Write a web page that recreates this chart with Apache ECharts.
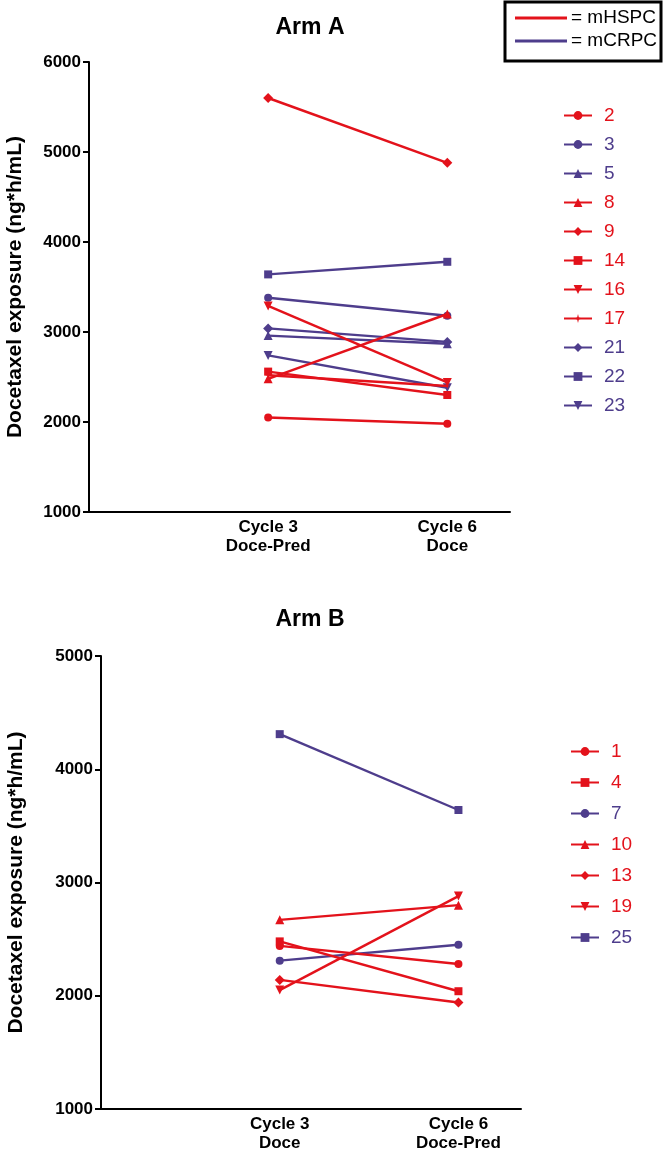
<!DOCTYPE html>
<html>
<head>
<meta charset="utf-8">
<script src="https://cdn.jsdelivr.net/npm/echarts@6/dist/echarts.min.js"></script>
<style>html,body{margin:0;padding:0;background:#fff}#c{width:665px;height:1158px}</style>
</head>
<body>
<div id="c"></div>
<script>
// ---- Data ----
const xCategories = [1, 2];
const armA_xLabels = ['Cycle 3\nDoce-Pred', 'Cycle 6\nDoce'];
const armB_xLabels = ['Cycle 3\nDoce', 'Cycle 6\nDoce-Pred'];

const armA_ids    = ['2','3','5','8','9','14','16','17','21','22','23'];
const armA_cycle3 = [2050,3380,2960,2480,5600,2560,3290,2520,3040,3640,2740];
const armA_cycle6 = [1980,3180,2870,3200,4880,2300,2440,2400,2890,3780,2380];
const armA_group  = ['mHSPC','mCRPC','mCRPC','mHSPC','mHSPC','mHSPC','mHSPC','mHSPC','mCRPC','mCRPC','mCRPC'];
const armA_marker = ['circle','circle','up','up','diamond','square','down','star','diamond','square','down'];

const armB_ids    = ['1','4','7','10','13','19','25'];
const armB_cycle3 = [2440,2480,2310,2670,2140,2050,4310];
const armB_cycle6 = [2280,2040,2450,2800,1940,2880,3640];
const armB_group  = ['mHSPC','mHSPC','mCRPC','mHSPC','mHSPC','mHSPC','mCRPC'];
const armB_marker = ['circle','square','circle','up','diamond','down','square'];

const armA_yTicks = [1000, 6000, 1000]; // min, max, interval
const armB_yTicks = [1000, 5000, 1000];

// ---- Styles ----
const COLORS = { mHSPC: '#e3121b', mCRPC: '#4e3d8c' };
const SYMBOLS = {
  circle: { s: 'circle', size: 8 },
  up: { s: 'triangle', size: 9 },
  down: { s: 'path://M0,0 L10,0 L5,9 Z', size: 9 },
  diamond: { s: 'diamond', size: 10 },
  square: { s: 'rect', size: 8 },
  star: { s: 'path://M5,0 L6,4 L10,5 L6,6 L5,10 L4,6 L0,5 L4,4 Z', size: 6 }
};
const FONT = 'Liberation Sans, Arial, sans-serif';

function buildSeries(ids, c3, c6, groups, markers, axisIdx) {
  return ids.map((id, i) => {
    const col = COLORS[groups[i]];
    const sym = SYMBOLS[markers[i]];
    return {
      name: id, type: 'line', xAxisIndex: axisIdx, yAxisIndex: axisIdx,
      data: [[xCategories[0], c3[i]], [xCategories[1], c6[i]]],
      symbol: sym.s, symbolSize: sym.size, showAllSymbol: true,
      lineStyle: { color: col, width: 2.4 },
      itemStyle: { color: col, borderWidth: 0 },
      emphasis: { disabled: true },
      z: groups[i] === 'mHSPC' ? 3 : 2,
      animation: false
    };
  });
}
function legendData(ids, groups) {
  return ids.map((id, i) => ({ name: id, textStyle: { color: COLORS[groups[i]] } }));
}
function xAxis(grid, labels) {
  return {
    type: 'value', gridIndex: grid, min: 0, max: 2.35, interval: 1,
    axisLine: { lineStyle: { color: '#000', width: 2 } },
    axisTick: { show: false }, splitLine: { show: false },
    axisLabel: {
      formatter: v => (v === 1 ? labels[0] : v === 2 ? labels[1] : ''),
      color: '#000', fontWeight: 'bold', fontSize: 17, fontFamily: FONT, lineHeight: 19, margin: 6
    }
  };
}
function yAxis(grid, t, gap) {
  return {
    type: 'value', gridIndex: grid, min: t[0], max: t[1], interval: t[2],
    name: 'Docetaxel exposure (ng*h/mL)', nameLocation: 'middle', nameGap: gap,
    nameTextStyle: { color: '#000', fontWeight: 'bold', fontSize: 21, fontFamily: FONT },
    axisLine: { show: true, lineStyle: { color: '#000', width: 2 } },
    axisTick: { show: true, length: 6, lineStyle: { color: '#000', width: 2 } },
    splitLine: { show: false },
    axisLabel: { formatter: v => String(v), color: '#000', fontWeight: 'bold', fontSize: 17,
      fontFamily: FONT, margin: 8 }
  };
}

const chart = echarts.init(document.getElementById('c'), null, { renderer: 'canvas' });
chart.setOption({
  backgroundColor: '#fff',
  animation: false,
  title: [
    { text: 'Arm A', left: 305, top: 11, textAlign: 'center',
      textStyle: { fontSize: 23, fontWeight: 'bold', color: '#000', fontFamily: FONT } },
    { text: 'Arm B', left: 305, top: 603, textAlign: 'center',
      textStyle: { fontSize: 23, fontWeight: 'bold', color: '#000', fontFamily: FONT } }
  ],
  grid: [
    { left: 89, top: 62, width: 421, height: 450, containLabel: false, outerBoundsMode: 'none' },
    { left: 101, top: 656, width: 420, height: 453, containLabel: false, outerBoundsMode: 'none' }
  ],
  xAxis: [xAxis(0, armA_xLabels), xAxis(1, armB_xLabels)],
  yAxis: [yAxis(0, armA_yTicks, 63), yAxis(1, armB_yTicks, 74)],
  legend: [
    { data: legendData(armA_ids, armA_group), orient: 'vertical', left: 558, top: 101,
      itemWidth: 28, itemHeight: 11, itemGap: 10, selectedMode: false,
      textStyle: { fontSize: 19, fontFamily: FONT, lineHeight: 19, padding: [0, 0, 0, 7] } },
    { data: legendData(armB_ids, armB_group), orient: 'vertical', left: 565, top: 737,
      itemWidth: 28, itemHeight: 11, itemGap: 12, selectedMode: false,
      textStyle: { fontSize: 19, fontFamily: FONT, lineHeight: 19, padding: [0, 0, 0, 7] } }
  ],
  graphic: [
    { type: 'rect', shape: { x: 505, y: 2, width: 156, height: 59 },
      style: { fill: '#fff', stroke: '#000', lineWidth: 3 } },
    { type: 'line', shape: { x1: 515, y1: 18, x2: 567, y2: 18 }, style: { stroke: COLORS.mHSPC, lineWidth: 3 } },
    { type: 'line', shape: { x1: 515, y1: 41, x2: 567, y2: 41 }, style: { stroke: COLORS.mCRPC, lineWidth: 3 } },
    { type: 'text', left: 571, top: 8, style: { text: '= mHSPC', fontSize: 19, fontFamily: FONT, fill: '#000' } },
    { type: 'text', left: 571, top: 31, style: { text: '= mCRPC', fontSize: 19, fontFamily: FONT, fill: '#000' } }
  ],
  series: [
    ...buildSeries(armA_ids, armA_cycle3, armA_cycle6, armA_group, armA_marker, 0),
    ...buildSeries(armB_ids, armB_cycle3, armB_cycle6, armB_group, armB_marker, 1)
  ]
});
</script>
</body>
</html>
